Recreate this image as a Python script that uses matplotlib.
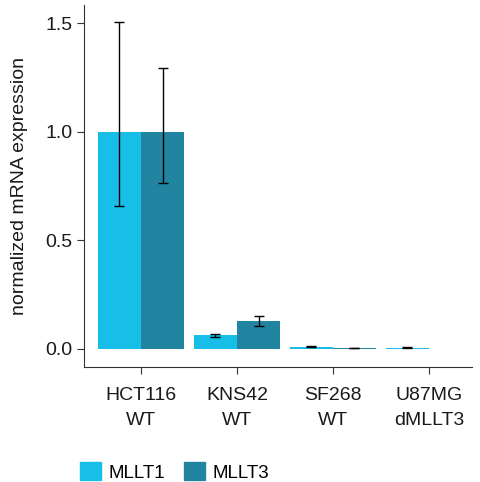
import matplotlib.pyplot as plt
import numpy as np
from matplotlib.patches import Patch

plt.rcParams['font.family'] = ['Liberation Sans', 'DejaVu Sans']

cells = ['HCT116\nWT', 'KNS42\nWT', 'SF268\nWT', 'U87MG\ndMLLT3']
mllt1 = [1.0, 0.062, 0.010, 0.005]
mllt1_lo = [0.656, 0.056, 0.008, 0.004]
mllt1_hi = [1.508, 0.070, 0.012, 0.006]
mllt3 = [1.0, 0.128, 0.003, 0.0]
mllt3_lo = [0.765, 0.107, 0.002, 0.0]
mllt3_hi = [1.296, 0.153, 0.004, 0.0]

c1 = '#17BEE8'
c3 = '#2185A1'

fig = plt.figure(figsize=(4.8, 4.82), dpi=100)
ax = fig.add_axes([0.175, 0.239, 0.808, 0.751])

x = np.arange(len(cells))
w = 0.45
ax.bar(x - w / 2, mllt1, w, color=c1)
ax.bar(x + w / 2, mllt3, w, color=c3)
m1 = np.array(mllt1)
m3 = np.array(mllt3)
ax.errorbar(x - w / 2, m1, yerr=[m1 - mllt1_lo, np.array(mllt1_hi) - m1],
            fmt='none', ecolor='black', elinewidth=1, capsize=3.6, capthick=1)
ax.errorbar((x + w / 2)[:3], m3[:3],
            yerr=[(m3 - mllt3_lo)[:3], (np.array(mllt3_hi) - m3)[:3]],
            fmt='none', ecolor='black', elinewidth=1, capsize=3.6, capthick=1)

ax.set_xlim(-0.594, 3.448)
ax.set_ylim(-0.083, 1.585)
ax.set_yticks([0.0, 0.5, 1.0, 1.5])
ax.set_yticklabels(['0.0', '0.5', '1.0', '1.5'])
ax.set_xticks(x)
ax.set_xticklabels(cells, linespacing=1.6)
ax.tick_params(labelsize=14, length=5, color='#333333', labelcolor='#1a1a1a')
ax.tick_params(axis='x', pad=9.5)
ax.set_ylabel('normalized mRNA expression', fontsize=14, color='#1a1a1a')
ax.yaxis.set_label_coords(-0.145, 0.5)
for s in ['top', 'right']:
    ax.spines[s].set_visible(False)
for s in ['left', 'bottom']:
    ax.spines[s].set_color('#333333')

handles = [Patch(color=c1, label='MLLT1'), Patch(color=c3, label='MLLT3')]
fig.legend(handles=handles, loc='lower left', bbox_to_anchor=(0.131, -0.034),
           ncol=2, frameon=False, fontsize=13.5, handlelength=1.15,
           handleheight=1.1, columnspacing=1.0, handletextpad=0.37)

fig.savefig('out.png')
